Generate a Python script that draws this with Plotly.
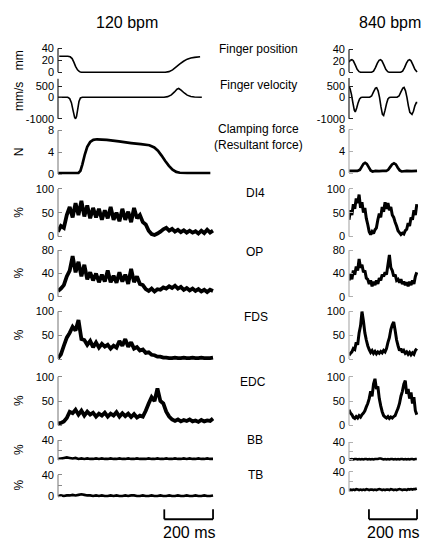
import plotly.graph_objects as go

W, H = 425, 544
FONT = "Liberation Sans, Arial, Helvetica, sans-serif"

# ===================== DATA =====================
# ---- 120 bpm (left column); time in ms ----
pos_L_t = [5, 40, 50, 58, 65, 72, 80, 88, 95, 440, 455, 470, 485, 500, 515, 530, 545, 560, 583]
pos_L_v = [27, 27, 26, 23, 17, 10, 4, 1, 0, 0, 1, 4, 9, 14, 18.5, 22, 24, 25, 26]

vel_L_t = [0, 40, 48, 55, 62, 68, 72, 76, 81, 86, 92, 100, 435, 450, 465, 478, 488, 495, 505, 518, 530, 545, 560, 590]
vel_L_v = [0, 0, -60, -250, -620, -930, -1000, -900, -550, -200, -30, 0, 0, 30, 110, 250, 380, 410, 330, 200, 100, 40, 15, 5]

frc_L_t = [0, 84, 92, 100, 110, 120, 132, 145, 160, 200, 250, 300, 340, 375, 395, 410, 425, 440, 455, 470, 485, 500, 530, 625]
frc_L_v = [0.2, 0.2, 0.6, 1.8, 3.6, 5.0, 5.9, 6.3, 6.4, 6.3, 6.0, 5.7, 5.5, 5.3, 4.9, 4.3, 3.4, 2.4, 1.5, 0.8, 0.4, 0.25, 0.2, 0.2]

emg_L_t = list(range(0, 637, 12))  # sampling grid of the EMG traces
di4_L = [10, 22, 18, 45, 62, 40, 70, 45, 75, 42,
         65, 38, 60, 40, 58, 35, 55, 38, 62, 35,
         50, 32, 58, 35, 52, 30, 60, 38, 45, 30,
         25, 12, 5, 3, 6, 10, 15, 18, 12, 16,
         10, 14, 9, 13, 8, 12, 8, 11, 6, 12,
         7, 14, 8, 12]
op_L = [10, 14, 20, 35, 45, 70, 42, 60, 35, 55,
        30, 42, 28, 40, 25, 38, 26, 45, 25, 36,
        24, 42, 26, 38, 22, 48, 25, 35, 22, 20,
        13, 10, 14, 9, 13, 12, 16, 14, 18, 15,
        19, 14, 17, 12, 15, 11, 14, 10, 13, 9,
        12, 8, 12, 10]
fds_L = [2, 10, 28, 45, 55, 68, 60, 82, 42, 40,
         30, 38, 25, 35, 24, 32, 26, 30, 22, 28,
         24, 38, 28, 42, 26, 35, 22, 25, 18, 20,
         13, 14, 9, 8, 5, 5, 3, 3, 2, 2,
         3, 2, 2, 3, 2, 2, 3, 2, 2, 3,
         2, 2, 2, 3]
edc_L = [4, 5, 8, 15, 28, 25, 32, 22, 30, 20,
         28, 22, 26, 18, 24, 20, 26, 18, 24, 20,
         27, 18, 25, 19, 24, 17, 23, 16, 20, 18,
         30, 45, 58, 50, 76, 50, 45, 28, 18, 12,
         9, 12, 8, 11, 9, 12, 8, 10, 7, 11,
         8, 10, 9, 14]
bb_L = [2, 3, 4, 5, 4, 3, 4, 2, 3, 2,
        3, 2, 2, 3, 2, 3, 2, 2, 3, 2,
        2, 3, 2, 2, 3, 2, 2, 3, 2, 2,
        2, 3, 2, 2, 3, 2, 2, 3, 2, 2,
        3, 2, 2, 3, 2, 3, 2, 2, 3, 2,
        2, 3, 2, 2]
tb_L = [1, 2, 1, 2, 2, 3, 2, 3, 4, 3,
        2, 2, 1, 2, 1, 2, 1, 1, 2, 1,
        2, 1, 1, 2, 1, 2, 2, 1, 1, 2,
        1, 1, 2, 1, 1, 2, 1, 1, 2, 1,
        1, 2, 1, 1, 2, 1, 1, 2, 1, 1,
        2, 1, 1, 2]

# ---- 840 bpm (right column); time in ms ----
pos_R_t = [0, 6, 12, 18, 26, 34, 42, 48, 94, 102, 110, 118, 125, 131, 137, 145, 153, 161, 167,
           215, 223, 231, 239, 246, 252, 258, 266, 274, 283]
pos_R_v = [18, 21, 22, 20, 13, 5, 1, 0, 0, 2, 8, 16, 21, 22, 20, 13, 5, 1, 0,
           0, 2, 8, 16, 21, 22, 20, 13, 5, 0.5]

vel_R_t = [0, 4, 10, 16, 22, 26, 32, 38, 44, 50, 56, 86, 94, 102, 110, 115, 121, 127, 133, 139, 144,
           150, 156, 162, 168, 174, 200, 208, 216, 224, 229, 235, 241, 247, 253, 262, 268, 274, 280, 284]
vel_R_v = [500, 420, 150, -250, -600, -680, -500, -250, -80, -10, 0, 0, 60, 250, 430, 450, 300, 0, -450, -800, -850,
           -600, -300, -80, -10, 0, 0, 60, 250, 430, 460, 300, 0, -400, -700, -800, -650, -400, -250, -250]

frc_R_t = [0, 35, 45, 52, 60, 67, 74, 82, 90, 98, 110, 125, 140, 155, 163, 171, 179, 187, 195, 203, 211, 219, 240, 260, 283]
frc_R_v = [0.4, 0.4, 0.6, 1.1, 1.7, 1.9, 1.7, 1.1, 0.5, 0.3, 0.4, 0.35, 0.4, 0.4, 0.6, 1.1, 1.6, 1.8, 1.6, 1.0, 0.5, 0.3, 0.4, 0.35, 0.4]

emg_R_t = list(range(0, 283, 6))  # sampling grid of the EMG traces
di4_R = [35, 55, 45, 68, 58, 80, 70, 88, 60, 72,
         50, 60, 38, 25, 10, 4, 10, 6, 14, 18,
         35, 48, 40, 62, 52, 72, 58, 70, 55, 62,
         45, 40, 30, 22, 12, 8, 4, 7, 5, 12,
         15, 28, 22, 40, 35, 55, 45, 68]
op_R = [28, 40, 30, 45, 38, 52, 45, 65, 50, 55,
        42, 45, 32, 30, 22, 28, 18, 26, 20, 28,
        22, 32, 28, 38, 35, 42, 38, 55, 72, 50,
        45, 35, 38, 28, 30, 24, 30, 22, 26, 20,
        25, 18, 26, 20, 28, 22, 35, 42]
fds_R = [8, 12, 15, 22, 20, 35, 30, 55, 70, 100,
         80, 55, 40, 28, 20, 14, 18, 12, 16, 11,
         15, 12, 16, 13, 18, 15, 22, 35, 45, 62,
         72, 78, 60, 40, 28, 18, 22, 14, 18, 12,
         15, 10, 14, 9, 13, 10, 18, 22]
edc_R = [32, 25, 22, 16, 14, 18, 15, 20, 17, 22,
         25, 30, 38, 45, 55, 70, 60, 85, 96, 75,
         80, 55, 40, 28, 20, 17, 15, 18, 14, 17,
         15, 18, 20, 28, 35, 45, 60, 70, 85, 92,
         65, 75, 55, 68, 45, 58, 30, 22]
bb_R = [2, 1, 2, 1, 2, 2, 1, 2, 1, 2,
        1, 2, 2, 1, 2, 1, 2, 1, 2, 2,
        2, 3, 3, 2, 1, 2, 1, 2, 1, 2,
        2, 1, 2, 1, 2, 1, 2, 2, 1, 2,
        1, 2, 1, 2, 2, 1, 2, 2]
tb_R = [3, 4, 3, 4, 3, 5, 4, 3, 4, 3,
        4, 3, 5, 4, 3, 4, 4, 3, 4, 3,
        4, 5, 4, 3, 4, 3, 4, 4, 3, 5,
        4, 3, 4, 3, 4, 5, 4, 3, 4, 4,
        3, 5, 4, 5, 4, 5, 5, 6]

col_titles = ["120 bpm", "840 bpm"]
row_labels = ["Finger position", "Finger velocity", "Clamping force<br>(Resultant force)",
              "DI4", "OP", "FDS", "EDC", "BB", "TB"]
units = ["mm", "mm/s", "N", "%", "%", "%", "%", "%", "%"]
scale_text = "200 ms"
scale_ms = 200

# ===================== LAYOUT GEOMETRY (pixels) =====================
# (px of upper tick, value, px of lower tick, value, tick values, tick text, top of axis line)
rowsL = [
    (46, 40, 70, 0, [0, 20, 40], ["0", "20", "40"], 40),
    (84.5, 500, 117, -1000, [-1000, 0, 500], ["-1000", "0", "500"], 860),
    (129, 8, 173, 0, [0, 4, 8], ["0", "4", "8"], 8),
    (188, 100, 236, 0, [0, 50, 100], ["0", "50", "100"], 100),
    (250, 80, 297, 0, [0, 40, 80], ["0", "40", "80"], 80),
    (312, 100, 360, 0, [0, 50, 100], ["0", "50", "100"], 100),
    (378, 100, 427, 0, [0, 50, 100], ["0", "50", "100"], 100),
    (442, 40, 462, 0, [0, 20, 40], ["0", "", "40"], 40),
    (477, 40, 499, 0, [0, 20, 40], ["0", "", "40"], 40),
]
rowsR = [
    (47, 40, 70, 0, [0, 20, 40], ["0", "20", "40"], 40),
    (84.5, 500, 117, -1000, [-1000, 0, 500], ["-1000", "0", "500"], 900),
    (128, 8, 172, 0, [0, 4, 8], ["0", "4", "8"], 8),
    (188, 100, 236, 0, [0, 50, 100], ["0", "50", "100"], 100),
    (250, 80, 297, 0, [0, 40, 80], ["0", "40", "80"], 80),
    (312, 100, 360, 0, [0, 50, 100], ["0", "50", "100"], 100),
    (378, 100, 427, 0, [0, 50, 100], ["0", "50", "100"], 100),
    (444, 40, 462, 0, [0, 20, 40], ["0", "", "40"], 40),
    (474, 40, 494, 0, [0, 20, 40], ["0", "", "40"], 40),
]
XL = (58, 214, 0, 640)   # px left, px right, ms range
XR = (349, 418, 0, 287)

WL, WR = 3.8, 3.0
dataL = [(pos_L_t, pos_L_v, 1.6), (vel_L_t, vel_L_v, 1.6), (frc_L_t, frc_L_v, 2.7),
         (emg_L_t, di4_L, WL), (emg_L_t, op_L, WL), (emg_L_t, fds_L, WL),
         (emg_L_t, edc_L, WL), (emg_L_t, bb_L, 2.6), (emg_L_t, tb_L, 2.6)]
dataR = [(pos_R_t, pos_R_v, 1.6), (vel_R_t, vel_R_v, 1.6), (frc_R_t, frc_R_v, 2.7),
         (emg_R_t, di4_R, WR), (emg_R_t, op_R, WR), (emg_R_t, fds_R, WR),
         (emg_R_t, edc_R, WR), (emg_R_t, bb_R, 2.6), (emg_R_t, tb_R, 2.6)]

fig = go.Figure()
layout = {}
shapes = []
annotations = []
PAD = 3

def ax(n, kind):
    return kind if n == 1 else f"{kind}{n}"

n = 0
for side, rows, data, XG in (("L", rowsL, dataL, XL), ("R", rowsR, dataR, XR)):
    for i, (p_hi, v_hi, p_lo, v_lo, tv, tt, vtop) in enumerate(rows):
        n += 1
        s = (p_lo - p_hi) / (v_hi - v_lo)  # px per unit
        p_top = p_lo - (vtop - v_lo) * s
        y0 = v_lo - PAD / s
        y1 = vtop + PAD / s
        dom = [1 - (p_lo + PAD) / H, 1 - (p_top - PAD) / H]
        dark = i < 2
        lc = "#222222" if dark else ("#8a8a8a" if side == "L" else "#b0b0b0")
        layout["xaxis" if n == 1 else f"xaxis{n}"] = dict(
            domain=[XG[0] / W, XG[1] / W], range=[XG[2], XG[3]], visible=False,
            anchor=ax(n, "y"), fixedrange=True)
        layout["yaxis" if n == 1 else f"yaxis{n}"] = dict(
            domain=dom, range=[y0, y1], anchor=ax(n, "x"),
            tickvals=tv, ticktext=tt, ticks="inside", ticklen=4, tickwidth=1, tickcolor=lc,
            showgrid=False, zeroline=False, showline=False, ticklabelstandoff=3,
            tickfont=dict(family=FONT, size=11, color="#000"), fixedrange=True)
        xr = "x domain" if n == 1 else f"x{n} domain"
        yr = ax(n, "y")
        shapes.append(dict(type="line", xref=xr, yref=yr, x0=0, x1=0, y0=v_lo, y1=vtop,
                           line=dict(color=lc, width=1.2)))
        t, v, w = data[i]
        fig.add_trace(go.Scatter(x=t, y=v, mode="lines", xaxis=ax(n, "x"), yaxis=ax(n, "y"),
                                 line=dict(color="#000", width=w, simplify=False),
                                 showlegend=False, hoverinfo="skip"))
        if side == "L":
            cy = (p_hi + p_lo) / 2 if i != 1 else 95
            annotations.append(dict(text=units[i], xref="paper", yref="paper", x=19 / W, y=1 - cy / H,
                                    textangle=-90, showarrow=False, xanchor="center", yanchor="middle",
                                    font=dict(family=FONT, size=12, color="#000")))

# row labels in the middle column
label_pos = [(258, 47), (258, 83), (258, 135), (255, 192), (254, 252), (256, 318), (253, 383), (255, 442), (255, 477)]
for txt, (x, y) in zip(row_labels, label_pos):
    annotations.append(dict(text=txt, xref="paper", yref="paper", x=x / W, y=1 - y / H, showarrow=False,
                            xanchor="center", yanchor="middle",
                            font=dict(family=FONT, size=12, color="#000")))

# column titles
for txt, x in zip(col_titles, (127, 390)):
    annotations.append(dict(text=txt, xref="paper", yref="paper", x=x / W, y=1 - 20 / H, showarrow=False,
                            xanchor="center", yanchor="middle",
                            font=dict(family=FONT, size=16, color="#000")))

# scale bars drawn on the bottom (TB) axes' time scales
for xa, tend in (("x9", 636), ("x18", 283)):
    t0 = tend - scale_ms
    yb, yt = 1 - 522 / H, 1 - 512 / H
    for (xa0, ya0, xa1, ya1) in ((t0, yb, tend, yb), (t0, yb, t0, yt), (tend, yb, tend, yt)):
        shapes.append(dict(type="line", xref=xa, yref="paper", x0=xa0, x1=xa1, y0=ya0, y1=ya1,
                           line=dict(color="#000", width=1.8)))
    annotations.append(dict(text=scale_text, xref=xa, yref="paper", x=(t0 + tend) / 2, y=1 - 535 / H,
                            showarrow=False, xanchor="center", yanchor="middle",
                            font=dict(family=FONT, size=16, color="#000")))

fig.update_layout(width=W, height=H, margin=dict(l=0, r=0, t=0, b=0),
                  paper_bgcolor="white", plot_bgcolor="white",
                  shapes=shapes, annotations=annotations, showlegend=False, **layout)

fig.write_html("out.html", config={"displayModeBar": False},
               post_script="document.body.style.margin='0px';document.body.style.overflow='hidden';")
